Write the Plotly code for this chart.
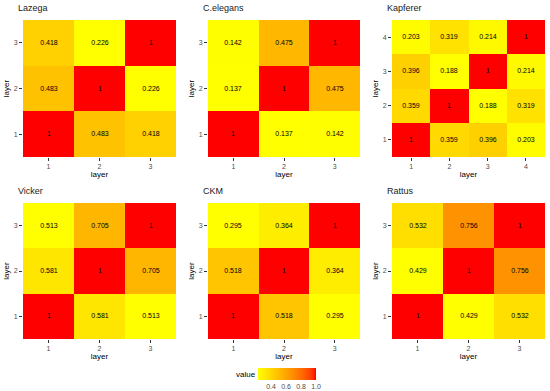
import plotly.graph_objects as go

# ---- data ----
titles = ["Lazega", "C.elegans", "Kapferer", "Vicker", "CKM", "Rattus"]
# each matrix: rows = y layer (1..n bottom to top), cols = x layer
lazega = [[1, 0.483, 0.418], [0.483, 1, 0.226], [0.418, 0.226, 1]]
celegans = [[1, 0.137, 0.142], [0.137, 1, 0.475], [0.142, 0.475, 1]]
kapferer = [[1, 0.359, 0.396, 0.203], [0.359, 1, 0.188, 0.319],
            [0.396, 0.188, 1, 0.214], [0.203, 0.319, 0.214, 1]]
vicker = [[1, 0.581, 0.513], [0.581, 1, 0.705], [0.513, 0.705, 1]]
ckm = [[1, 0.518, 0.295], [0.518, 1, 0.364], [0.295, 0.364, 1]]
rattus = [[1, 0.429, 0.532], [0.429, 1, 0.756], [0.532, 0.756, 1]]
matrices = [lazega, celegans, kapferer, vicker, ckm, rattus]
legend_ticks = [0.4, 0.6, 0.8, 1.0]


# ---- Lab colour ramp yellow -> red (ggplot2 style) ----
def srgb_to_lab(rgb):
    def lin(c):
        c = c / 255
        return c / 12.92 if c <= 0.04045 else ((c + 0.055) / 1.055) ** 2.4
    r, g, b = [lin(c) for c in rgb]
    X = 0.4124 * r + 0.3576 * g + 0.1805 * b
    Y = 0.2126 * r + 0.7152 * g + 0.0722 * b
    Z = 0.0193 * r + 0.1192 * g + 0.9505 * b
    Xn, Yn, Zn = 0.95047, 1.0, 1.08883
    def f(t):
        return t ** (1 / 3) if t > 0.008856 else 7.787 * t + 16 / 116
    fx, fy, fz = f(X / Xn), f(Y / Yn), f(Z / Zn)
    return (116 * fy - 16, 500 * (fx - fy), 200 * (fy - fz))


def lab_to_srgb(lab):
    L, a, b = lab
    fy = (L + 16) / 116
    fx = fy + a / 500
    fz = fy - b / 200
    def finv(t):
        return t ** 3 if t ** 3 > 0.008856 else (t - 16 / 116) / 7.787
    X, Y, Z = 0.95047 * finv(fx), finv(fy), 1.08883 * finv(fz)
    r = 3.2406 * X - 1.5372 * Y - 0.4986 * Z
    g = -0.9689 * X + 1.8758 * Y + 0.0415 * Z
    bb = 0.0557 * X - 0.2040 * Y + 1.0570 * Z
    def gam(c):
        c = max(0.0, min(1.0, c))
        return 12.92 * c if c <= 0.0031308 else 1.055 * c ** (1 / 2.4) - 0.055
    return tuple(int(round(255 * gam(c))) for c in (r, g, bb))


lo = srgb_to_lab((255, 255, 0))
hi = srgb_to_lab((255, 0, 0))
colorscale = []
for i in range(21):
    t = i / 20
    lab = tuple(lo[k] + (hi[k] - lo[k]) * t for k in range(3))
    colorscale.append([t, "rgb(%d,%d,%d)" % lab_to_srgb(lab)])

# approximate Arial/Liberation Sans glyph widths (per 1000 em) to centre titles
GLYPH_W = {"L": 556, "a": 556, "z": 500, "e": 556, "g": 556, "C": 722, ".": 278,
           "l": 222, "n": 556, "s": 500, "K": 667, "p": 556, "f": 278, "r": 333,
           "V": 667, "i": 222, "c": 500, "k": 500, "M": 833, "R": 722, "t": 278,
           "u": 556}


def text_width(s, size):
    return sum(GLYPH_W.get(ch, 556) for ch in s) * size / 1000


# ---- layout geometry (pixels) ----
W, H = 550, 391
col_px = [(23, 176), (208, 360), (392, 545)]
row_px = [(20, 157), (203, 339)]
TITLE_SIZE = 9

fig = go.Figure()
FONT = "Liberation Sans, Arial, sans-serif"
layout_axes = {}
annotations = []

for idx, (title, m) in enumerate(zip(titles, matrices)):
    r, c = divmod(idx, 3)
    n = len(m)
    xs = list(range(1, n + 1))
    flat = [v for row in m for v in row]
    text = [["1" if v == 1 else "%.3f" % v for v in row] for row in m]
    ax = "" if idx == 0 else str(idx + 1)
    show_cb = idx == 0
    tr = go.Heatmap(
        z=m, x=xs, y=xs, text=text, texttemplate="%{text}",
        textfont=dict(size=7, color="black", family=FONT),
        colorscale=colorscale, zmin=min(flat), zmax=1,
        xaxis="x" + ax, yaxis="y" + ax, showscale=show_cb, hoverinfo="z",
    )
    if show_cb:
        tr.colorbar = dict(
            orientation="h", lenmode="pixels", len=58, thickness=12,
            thicknessmode="pixels", x=287 / W, xanchor="center",
            y=1 - 368 / H, yanchor="top", xpad=0, ypad=0, outlinewidth=0,
            tickvals=legend_ticks, tickformat=".1f", ticks="",
            tickfont=dict(size=7, color="#4d4d4d", family=FONT),
        )
    fig.add_trace(tr)
    x0, x1 = col_px[c]
    y0, y1 = row_px[r]
    tickfont = dict(size=7, color="#4d4d4d", family=FONT)
    layout_axes["xaxis" + ax] = dict(
        domain=[x0 / W, x1 / W], anchor="y" + ax, range=[0.5, n + 0.5],
        tickvals=xs, tickangle=0, ticks="outside", ticklen=3, tickcolor="#333",
        tickfont=tickfont, showgrid=False, zeroline=False, showline=False,
        title=dict(text="layer", font=dict(size=8, color="black", family=FONT), standoff=1),
        automargin=False, fixedrange=True,
    )
    layout_axes["yaxis" + ax] = dict(
        domain=[1 - y1 / H, 1 - y0 / H], anchor="x" + ax, range=[0.5, n + 0.5],
        tickvals=xs, ticks="outside", ticklen=3, tickcolor="#333",
        tickfont=tickfont, showgrid=False, zeroline=False, showline=False,
        title=dict(text="layer", font=dict(size=8, color="black", family=FONT), standoff=2),
        automargin=False, fixedrange=True,
    )
    left = x0 - 5
    cx = left + text_width(title, TITLE_SIZE) / 2
    annotations.append(dict(
        text=title, x=cx / W, y=1 - (y0 - 6) / H, xref="paper", yref="paper",
        xanchor="center", yanchor="bottom", showarrow=False, borderpad=0,
        font=dict(size=TITLE_SIZE, color="#1a1a1a", family=FONT),
    ))

annotations.append(dict(
    text="value", x=246 / W, y=1 - 374 / H, xref="paper", yref="paper",
    xanchor="center", yanchor="middle", showarrow=False,
    font=dict(size=8, color="black", family=FONT),
))

fig.update_layout(
    width=W, height=H, margin=dict(l=0, r=0, t=0, b=0, autoexpand=False),
    paper_bgcolor="white", plot_bgcolor="white",
    annotations=annotations, font=dict(family=FONT), **layout_axes,
)
fig.write_html(
    "out.html",
    config={"displayModeBar": False},
    post_script="document.body.style.margin='0';document.body.style.padding='0';",
)
